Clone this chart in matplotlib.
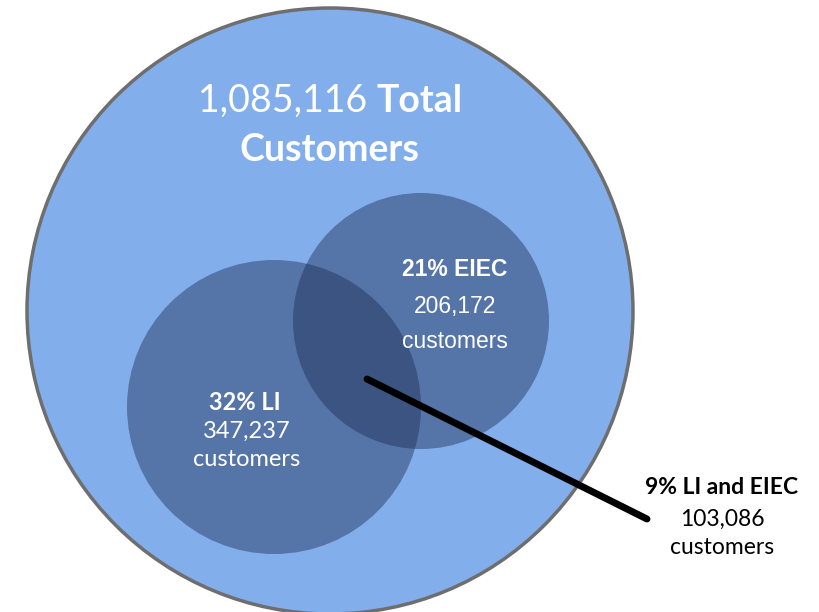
import matplotlib.pyplot as plt
from matplotlib.patches import Circle

# --- Data ---
total_customers = "1,085,116"
group_names = ["LI", "EIEC"]
group_pct = ["32%", "21%"]
group_counts = ["347,237", "206,172"]
overlap_pct = "9%"
overlap_count = "103,086"

# circle geometry in pixel units (x, y, radius)
outer_circle = (330, 311, 303)
group_circles = [(274, 407, 147), (421, 321, 128)]
leader = ([367, 647], [379, 519])

# --- Plot ---
fig = plt.figure(figsize=(8.2, 6.12), dpi=100)
ax = fig.add_axes([0, 0, 1, 1])
ax.set_xlim(0, 820)
ax.set_ylim(612, 0)
ax.set_aspect("equal")
ax.axis("off")

cx, cy, r = outer_circle
ax.add_patch(Circle((cx, cy), r, facecolor="#82AEEB", edgecolor="#6E6E6E", linewidth=2.5))

for x, y, rad in group_circles:
    ax.add_patch(Circle((x, y), rad, facecolor="#1F2F56", alpha=0.45, edgecolor="none"))

ax.plot(leader[0], leader[1], color="black", linewidth=5, solid_capstyle="round")

calibri = ["Lato", "DejaVu Sans"]
arial = ["Liberation Sans", "DejaVu Sans"]

# total label: regular number + bold "Total", centred together
pa = ax.text(0, 101, total_customers + " ", ha="left", va="center", color="white",
             fontsize=27, family=calibri)
pb = ax.text(0, 101, "Total", ha="left", va="center", color="white",
             fontsize=27, family=calibri, fontweight="bold")
fig.canvas.draw()
renderer = fig.canvas.get_renderer()
scale = 820 / fig.bbox.width
wa = pa.get_window_extent(renderer).width * scale
wb = pb.get_window_extent(renderer).width * scale
start = cx - (wa + wb) / 2
pa.set_x(start)
pb.set_x(start + wa)
ax.text(cx, 150, "Customers", ha="center", va="center", color="white",
        fontsize=27, family=calibri, fontweight="bold")

# LI label
ax.text(245, 403, group_pct[0] + " " + group_names[0], ha="center", va="center",
        color="white", fontsize=17, family=calibri, fontweight="bold")
ax.text(247, 431, group_counts[0], ha="center", va="center", color="white",
        fontsize=17, family=calibri)
ax.text(247, 459, "customers", ha="center", va="center", color="white",
        fontsize=17, family=calibri)

# EIEC label
ax.text(455, 270, group_pct[1] + " " + group_names[1], ha="center", va="center",
        color="white", fontsize=16.5, family=arial, fontweight="bold")
ax.text(455, 306, group_counts[1], ha="center", va="center", color="white",
        fontsize=16.5, family=arial)
ax.text(455, 342, "customers", ha="center", va="center", color="white",
        fontsize=16.5, family=arial)

# overlap label
ax.text(722, 487, overlap_pct + " " + group_names[0] + " and " + group_names[1],
        ha="center", va="center", color="black", fontsize=16.5, family=calibri,
        fontweight="bold")
ax.text(722, 519, overlap_count, ha="center", va="center", color="black",
        fontsize=16.5, family=calibri)
ax.text(722, 548, "customers", ha="center", va="center", color="black",
        fontsize=16.5, family=calibri)

fig.savefig("out.png", dpi=100)
